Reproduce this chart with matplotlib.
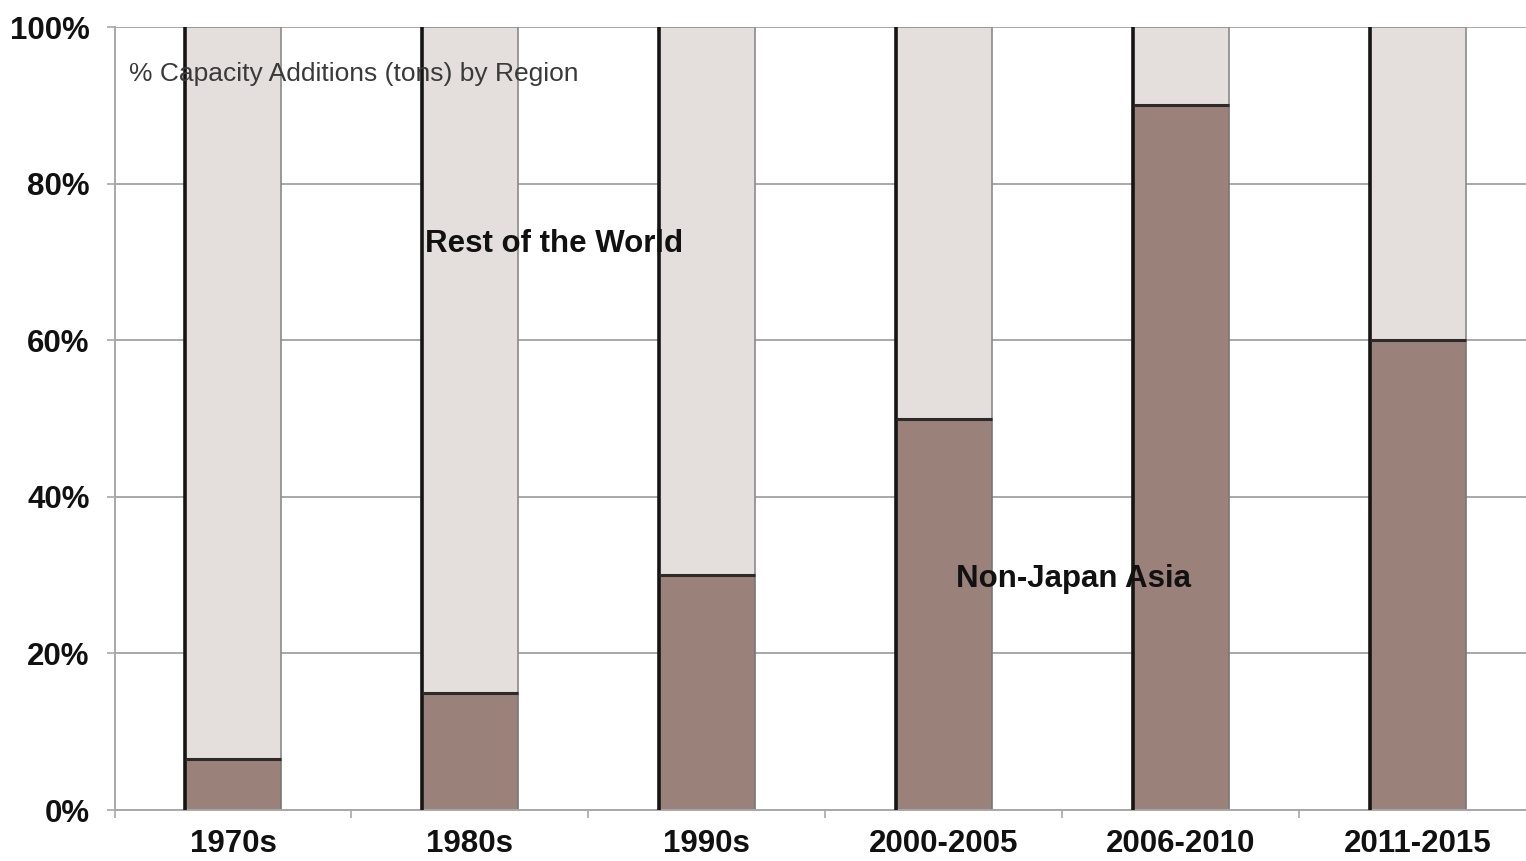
import numpy as np
import matplotlib.pyplot as plt

periods = ['1970s', '1980s', '1990s', '2000-2005', '2006-2010', '2011-2015']
non_japan_asia = [6.5, 15, 30, 50, 90, 60]
rest_of_world = [100 - v for v in non_japan_asia]

dark = '#9a8179'
light = '#e4dfdd'
grid_c = '#a8a8a8'

fig = plt.figure(figsize=(15.26, 8.61), dpi=100)
ax = fig.add_axes([114.5 / 1526, 1 - 810 / 861, 1 - 114.5 / 1526, (810 - 27) / 861])

x = np.arange(len(periods))
w = 0.405
ax.bar(x, non_japan_asia, w, color=dark, edgecolor='#777777', linewidth=1.2, zorder=2)
ax.bar(x, rest_of_world, w, bottom=non_japan_asia, color=light, edgecolor='#8a8a8a',
       linewidth=1.2, zorder=2)
# dark left edge and segment boundary
ax.vlines(x - w / 2, 0, 100, color='#151515', linewidth=2.6, zorder=3)
ax.hlines(non_japan_asia, x - w / 2, x + w / 2, color='#2e2a28', linewidth=2.2, zorder=3)

ax.set_yticks(range(0, 101, 20))
ax.set_yticklabels([f'{v}%' for v in range(0, 101, 20)])
ax.set_xticks(x)
ax.set_xticklabels(periods)
ax.set_xticks(np.arange(-0.5, 5.6, 1), minor=True)
ax.set_xlim(-0.5, 5.5 - 10 / 237)
ax.set_ylim(0, 100)
ax.tick_params(axis='x', which='major', length=0, pad=14)
ax.tick_params(axis='x', which='minor', length=6, color=grid_c, width=1.2)
ax.tick_params(axis='y', length=6, color=grid_c, width=1.2, pad=12)
for lab in ax.get_xticklabels() + ax.get_yticklabels():
    lab.set_fontfamily('Liberation Sans')
    lab.set_fontweight('bold')
    lab.set_fontsize(22.5)
    lab.set_color('#111111')

ax.yaxis.grid(True, color=grid_c, linewidth=1.4, zorder=0)
ax.set_axisbelow(True)
for s in ['top', 'right']:
    ax.spines[s].set_visible(False)
for s in ['left', 'bottom']:
    ax.spines[s].set_color(grid_c)
    ax.spines[s].set_linewidth(1.4)

ax.text(-0.44, 94.0, '% Capacity Additions (tons) by Region', fontsize=19,
        family='Liberation Sans', color='#3a3a3a', va='center', ha='left', zorder=4)
ax.text(0.81, 72.3, 'Rest of the World', fontsize=22.5, family='Liberation Sans',
        fontweight='bold', color='#111111', va='center', ha='left', zorder=4)
ax.text(3.05, 29.5, 'Non-Japan Asia', fontsize=22.5, family='Liberation Sans',
        fontweight='bold', color='#111111', va='center', ha='left', zorder=4)

fig.savefig('out.png', dpi=100)
